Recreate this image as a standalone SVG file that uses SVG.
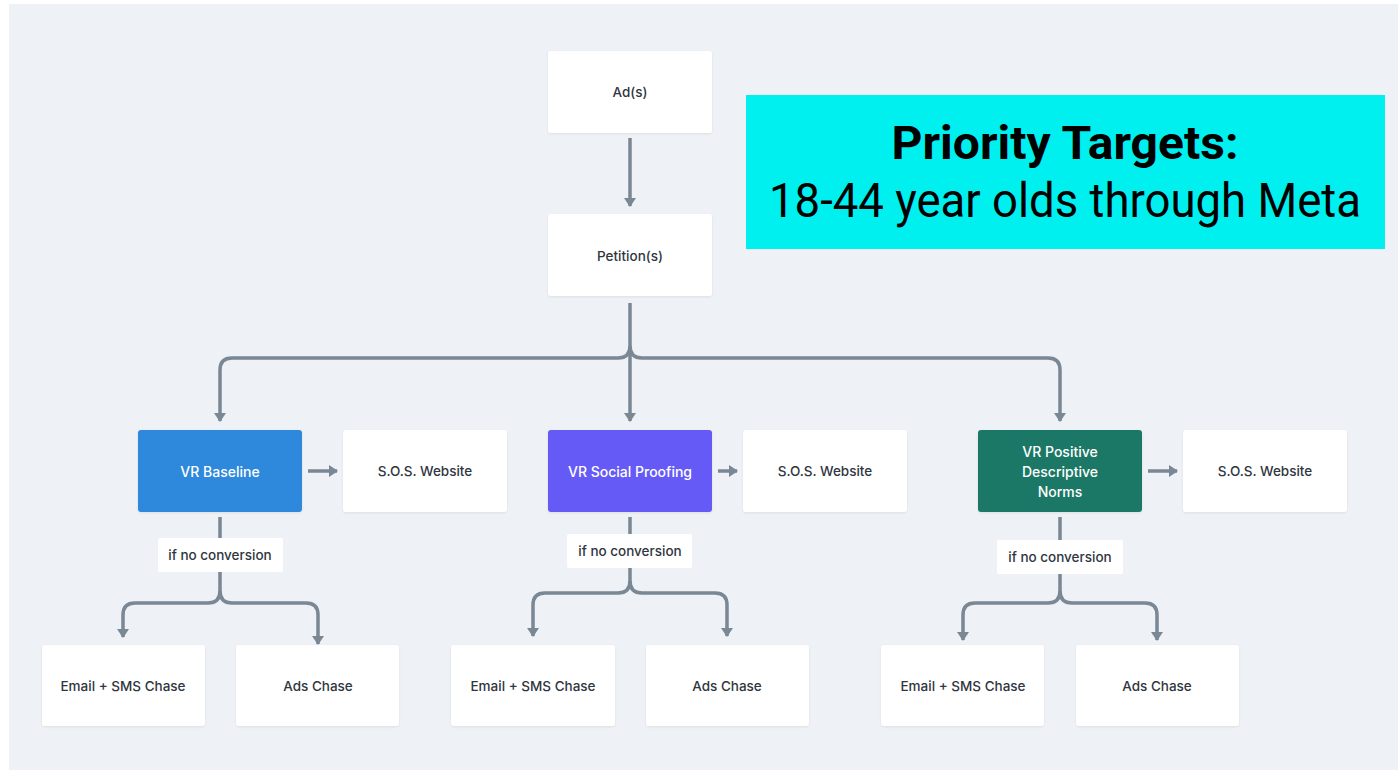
<svg xmlns="http://www.w3.org/2000/svg" width="1398" height="770" viewBox="0 0 1398 770">
  <defs>
    <marker id="arr" markerUnits="userSpaceOnUse" viewBox="0 0 9 12" markerWidth="9" markerHeight="12" refX="8" refY="6" orient="auto">
      <path d="M0,0 L9,6 L0,12 z" fill="#7a8794"/>
    </marker>
    <filter id="sh" x="-10%" y="-10%" width="120%" height="130%">
      <feDropShadow dx="0" dy="1" stdDeviation="1" flood-color="#000" flood-opacity="0.08"/>
    </filter>
  </defs>
  <style>
    .node { fill: #ffffff; filter: url(#sh); }
    .lbl { font-family: Inter, "Noto Sans", sans-serif; font-size: 13.5px; font-weight: 500; fill: #2f3640; text-anchor: middle; dominant-baseline: central; }
    .wlbl { font-family: Inter, "Noto Sans", sans-serif; font-size: 14px; font-weight: 500; fill: #ffffff; text-anchor: middle; dominant-baseline: central; }
    .conn { fill: none; stroke: #7a8794; stroke-width: 3.5; stroke-linecap: butt; }
    .cond { fill: #ffffff; }
  </style>
  <rect x="0" y="0" width="1398" height="770" fill="#ffffff"/>
  <rect x="9" y="4" width="1389" height="766" fill="#eef2f6"/>

  <g id="connectors">
    <path class="conn" d="M630,138 V206" marker-end="url(#arr)"/>
    <path class="conn" d="M630,303 V421" marker-end="url(#arr)"/>
    <path class="conn" d="M630,346 Q630,358 618,358 H232 Q220,358 220,370 V421" marker-end="url(#arr)"/>
    <path class="conn" d="M630,346 Q630,358 642,358 H1048 Q1060,358 1060,370 V421" marker-end="url(#arr)"/>
    <path class="conn" d="M308,471 H337" marker-end="url(#arr)"/>
    <path class="conn" d="M718,471 H737" marker-end="url(#arr)"/>
    <path class="conn" d="M1148,471 H1177" marker-end="url(#arr)"/>
    <path class="conn" d="M220,517 V591 Q220,603 208,603 H135 Q123,603 123,615 V637" marker-end="url(#arr)"/>
    <path class="conn" d="M220,591 Q220,603 232,603 H306 Q318,603 318,615 V644" marker-end="url(#arr)"/>
    <path class="conn" d="M630,517 V581 Q630,593 618,593 H545 Q533,593 533,605 V636" marker-end="url(#arr)"/>
    <path class="conn" d="M630,581 Q630,593 642,593 H715 Q727,593 727,605 V636" marker-end="url(#arr)"/>
    <path class="conn" d="M1060,517 V591 Q1060,603 1048,603 H975 Q963,603 963,615 V640" marker-end="url(#arr)"/>
    <path class="conn" d="M1060,591 Q1060,603 1072,603 H1145 Q1157,603 1157,615 V640" marker-end="url(#arr)"/>
  </g>

  <g id="priority">
    <rect x="746" y="95" width="639" height="154" fill="#00f0f0"/>
    <text x="1065" y="159" font-family="Roboto, 'Liberation Sans', sans-serif" font-weight="bold" font-size="47" fill="#000" text-anchor="middle" textLength="347" lengthAdjust="spacingAndGlyphs">Priority Targets:</text>
    <text x="1065" y="217" font-family="Roboto, 'Liberation Sans', sans-serif" font-weight="400" font-size="48" fill="#000" text-anchor="middle" textLength="592" lengthAdjust="spacingAndGlyphs">18-44 year olds through Meta</text>
  </g>

  <g id="ads"><rect class="node" x="548" y="51" width="164" height="82" rx="3"/><text class="lbl" x="630" y="92">Ad(s)</text></g>
  <g id="petitions"><rect class="node" x="548" y="214" width="164" height="82" rx="3"/><text class="lbl" x="630" y="256">Petition(s)</text></g>

  <g id="vr-baseline"><rect x="138" y="430" width="164" height="82" rx="3" fill="#2e88dc" filter="url(#sh)"/><text class="wlbl" x="220" y="471">VR Baseline</text></g>
  <g id="sos-1"><rect class="node" x="343" y="430" width="164" height="82" rx="3"/><text class="lbl" x="425" y="471">S.O.S. Website</text></g>
  <g id="vr-social"><rect x="548" y="430" width="164" height="82" rx="3" fill="#655af5" filter="url(#sh)"/><text class="wlbl" x="630" y="471">VR Social Proofing</text></g>
  <g id="sos-2"><rect class="node" x="743" y="430" width="164" height="82" rx="3"/><text class="lbl" x="825" y="471">S.O.S. Website</text></g>
  <g id="vr-positive"><rect x="978" y="430" width="164" height="82" rx="3" fill="#1e7866" filter="url(#sh)"/>
    <text class="wlbl" x="1060" y="451">VR Positive</text>
    <text class="wlbl" x="1060" y="471">Descriptive</text>
    <text class="wlbl" x="1060" y="491">Norms</text></g>
  <g id="sos-3"><rect class="node" x="1183" y="430" width="164" height="82" rx="3"/><text class="lbl" x="1265" y="471">S.O.S. Website</text></g>

  <g id="cond-1"><rect class="cond" x="158" y="538" width="125" height="34" rx="2"/><text class="lbl" x="220" y="555">if no conversion</text></g>
  <g id="cond-2"><rect class="cond" x="567" y="534" width="125" height="34" rx="2"/><text class="lbl" x="630" y="551">if no conversion</text></g>
  <g id="cond-3"><rect class="cond" x="997" y="540" width="126" height="34" rx="2"/><text class="lbl" x="1060" y="557">if no conversion</text></g>

  <g id="email-1"><rect class="node" x="42" y="645" width="163" height="81" rx="3"/><text class="lbl" x="123" y="686">Email + SMS Chase</text></g>
  <g id="adschase-1"><rect class="node" x="236" y="645" width="163" height="81" rx="3"/><text class="lbl" x="318" y="686">Ads Chase</text></g>
  <g id="email-2"><rect class="node" x="451" y="645" width="164" height="81" rx="3"/><text class="lbl" x="533" y="686">Email + SMS Chase</text></g>
  <g id="adschase-2"><rect class="node" x="646" y="645" width="163" height="81" rx="3"/><text class="lbl" x="727" y="686">Ads Chase</text></g>
  <g id="email-3"><rect class="node" x="881" y="645" width="163" height="81" rx="3"/><text class="lbl" x="963" y="686">Email + SMS Chase</text></g>
  <g id="adschase-3"><rect class="node" x="1076" y="645" width="163" height="81" rx="3"/><text class="lbl" x="1157" y="686">Ads Chase</text></g>
</svg>
